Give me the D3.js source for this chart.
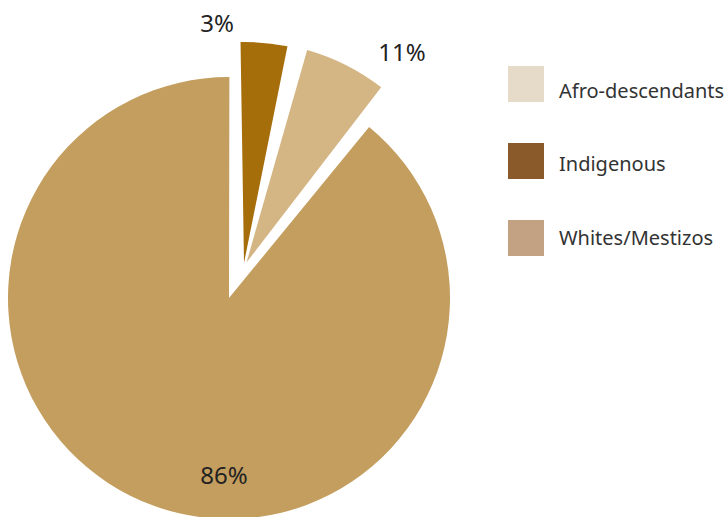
<!DOCTYPE html>
<html>
<head>
<meta charset="utf-8">
<script src="https://cdn.jsdelivr.net/npm/d3@7"></script>
<style>
  html, body { margin: 0; padding: 0; background: #fff; }
  svg { display: block; font-family: "Noto Sans", "Open Sans", sans-serif; }
</style>
</head>
<body>
<svg id="chart"></svg>
<script>
// slices, clockwise from 12 o'clock
var groups = ["Indigenous", "Afro-descendants", "Whites/Mestizos"];
// share of the circle each wedge takes as drawn (percent)
var drawnShare = [3.4, 6.0, 89.1];
// printed value labels
var valueLabels = ["3%", "11%", "86%"];

var legendItems = ["Afro-descendants", "Indigenous", "Whites/Mestizos"];

var width = 726, height = 517;
var cx = 229, cy = 298, radius = 221;

// wedge colours (the pie) and legend swatches differ in the original
var sliceColor = { "Indigenous": "#a66d0b", "Afro-descendants": "#d4b584", "Whites/Mestizos": "#c49e5e" };
var swatchColor = { "Afro-descendants": "#e6dac9", "Indigenous": "#8b5a2b", "Whites/Mestizos": "#c2a282" };

// exploded wedges are pulled out by hand
var shift = { "Indigenous": [15, -35], "Afro-descendants": [17.5, -35.5], "Whites/Mestizos": [0, 0] };
var startDeg = -0.9;
var gapDeg = [4.6, 1.8, 0];
// label anchors relative to the pie centre
var labelPos = { "Indigenous": [-12, -266], "Afro-descendants": [173, -237], "Whites/Mestizos": [-5, 186] };

var svg = d3.select("#chart")
  .attr("width", width)
  .attr("height", height);

var deg = Math.PI / 180;
var a = startDeg;
var slices = drawnShare.map(function(v, i) {
  var s = a, e = a + v * 3.6;
  a = e + gapDeg[i];
  return { name: groups[i], label: valueLabels[i], startAngle: s * deg, endAngle: e * deg };
});

var arc = d3.arc().innerRadius(0).outerRadius(radius);

var gPie = svg.append("g")
  .attr("transform", "translate(" + cx + "," + cy + ")");

gPie.selectAll("path")
  .data(slices)
  .enter().append("path")
  .attr("transform", function(d) { return "translate(" + shift[d.name][0] + "," + shift[d.name][1] + ")"; })
  .attr("d", arc)
  .attr("fill", function(d) { return sliceColor[d.name]; });

gPie.selectAll("text.value")
  .data(slices)
  .enter().append("text")
  .attr("class", "value")
  .attr("x", function(d) { return labelPos[d.name][0]; })
  .attr("y", function(d) { return labelPos[d.name][1]; })
  .attr("text-anchor", "middle")
  .attr("font-size", 24)
  .attr("fill", "#222")
  .text(function(d) { return d.label; });

// legend
var rectY = d3.scalePoint().domain(legendItems).range([66, 220]);
var textY = d3.scalePoint().domain(legendItems).range([98, 244.5]);

var legend = svg.append("g");

legend.selectAll("rect")
  .data(legendItems)
  .enter().append("rect")
  .attr("x", 508)
  .attr("y", function(d) { return rectY(d); })
  .attr("width", 36)
  .attr("height", 36)
  .attr("fill", function(d) { return swatchColor[d]; });

legend.selectAll("text")
  .data(legendItems)
  .enter().append("text")
  .attr("x", 559)
  .attr("y", function(d) { return textY(d); })
  .attr("font-size", 20)
  .attr("fill", "#333")
  .text(function(d) { return d; });
</script>
</body>
</html>
